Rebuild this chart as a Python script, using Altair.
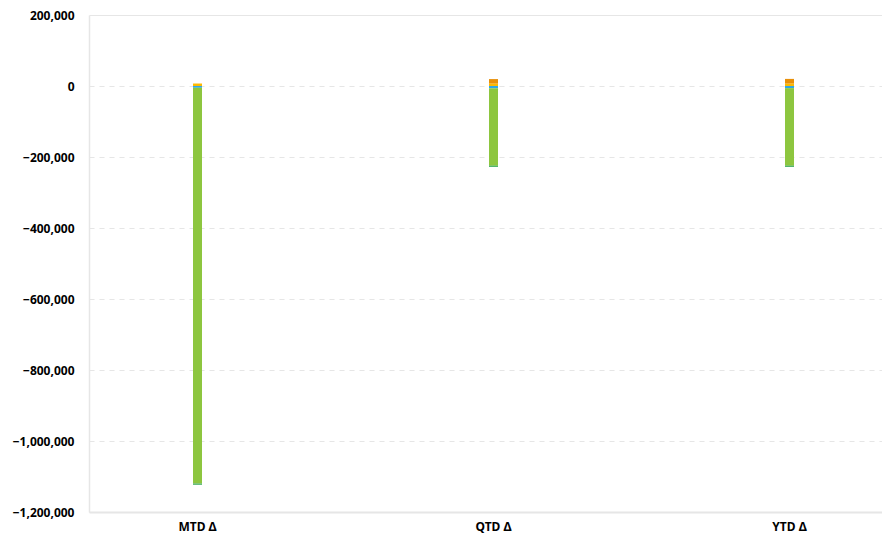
import altair as alt
import pandas as pd

periods = ["MTD Δ", "QTD Δ", "YTD Δ"]
series = ["Orange", "Yellow", "Blue", "Green", "Dark Green"]
colors = ["#E8900A", "#FFB900", "#2EA8E6", "#8DC63F", "#1E9E3E"]
stack_order = [2, 1, 3, 4, 5]
values = {
    "Orange":     [0, 13000, 13500],
    "Yellow":     [7000, 6500, 6500],
    "Blue":       [-5000, -6500, -6000],
    "Green":      [-1115000, -218000, -218500],
    "Dark Green": [-3000, -3000, -3000],
}

rows = []
for si, s in enumerate(series):
    for pi, p in enumerate(periods):
        rows.append({"period": p, "series": s, "value": values[s][pi], "ord": stack_order[si]})
df = pd.DataFrame(rows)

font = "Noto Sans"

chart = alt.Chart(df).mark_bar(size=9).encode(
    x=alt.X("period:N", sort=periods,
            scale=alt.Scale(paddingInner=0.9696, paddingOuter=0.3243, align=0.5417),
            axis=alt.Axis(title=None, labelAngle=0, labelFont=font, labelFontWeight="bold",
                          labelFontSize=12, labelColor="#000", ticks=False, labelPadding=9,
                          domainColor="#e6e6e6", domainWidth=2, grid=False)),
    y=alt.Y("value:Q", stack="zero",
            scale=alt.Scale(domain=[-1200000, 200000], nice=False),
            axis=alt.Axis(title=None, values=list(range(-1200000, 200001, 200000)),
                          format=",d", labelFont=font, labelFontWeight="bold",
                          labelFontSize=12, labelColor="#000", ticks=False, labelPadding=15,
                          domainColor="#e6e6e6", domainWidth=1.5,
                          gridColor="#e6e6e6", gridWidth=1.2,
                          gridDash={"condition": {"test": "datum.value == 200000", "value": []},
                                    "value": [5, 5]})),
    color=alt.Color("series:N", sort=series,
                    scale=alt.Scale(domain=series, range=colors), legend=None),
    order=alt.Order("ord:Q"),
).properties(
    width=793, height=497,
    autosize=alt.AutoSizeParams(type="none"),
    padding={"left": 81, "top": 7, "right": 0, "bottom": 25},
).configure_view(stroke=None)

chart.save("out.html", embed_options={"renderer": "svg", "actions": False})
